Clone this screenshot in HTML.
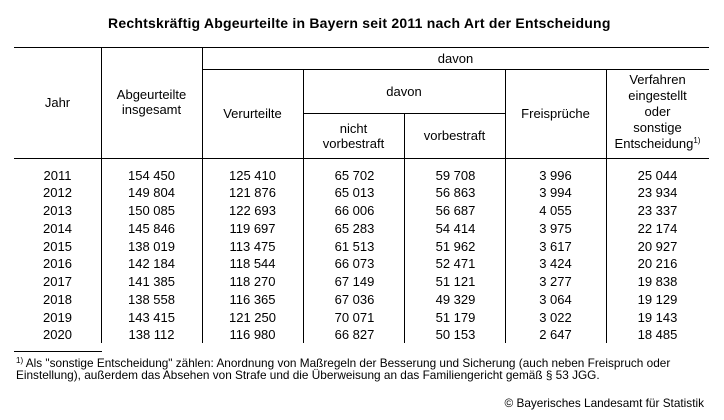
<!DOCTYPE html>
<html>
<head>
<meta charset="utf-8">
<style>
  html, body { margin:0; padding:0; background:#fff; }
  #root { position:relative; width:724px; height:420px; overflow:hidden; background:#fff;
          font-family:"Liberation Sans", Arial, sans-serif; color:#000; }
  .h { position:absolute; height:1px; background:#000; }
  .v { position:absolute; width:1px; background:#000; }
  .cell { position:absolute; display:flex; align-items:center; justify-content:center;
          text-align:center; font-size:13px; line-height:15px; }
  .cell > div { text-align:center; }
  .row { position:absolute; left:0; width:724px; height:17.75px; font-size:13px; line-height:17.75px; }
  .row span { position:absolute; top:0; text-align:center; white-space:nowrap; }
  .c1 { left:14px; width:87px; }
  .c2 { left:101px; width:101px; }
  .c3 { left:202px; width:101px; }
  .c4 { left:304px; width:101px; }
  .c5 { left:405px; width:101px; }
  .c6 { left:505px; width:101px; }
  .c7 { left:606px; width:103px; }
  .s { font-size:8px; line-height:0; position:relative; top:-5px; }
</style>
</head>
<body>
<div id="root">
  <div style="position:absolute; left:108px; top:15.5px; font-size:14px; line-height:14px; font-weight:bold; letter-spacing:0.22px; white-space:nowrap;">Rechtskräftig Abgeurteilte in Bayern seit 2011 nach Art der Entscheidung</div>

  <!-- horizontal lines -->
  <div class="h" style="left:14px; top:47px; width:695px;"></div>
  <div class="h" style="left:202px; top:69px; width:507px;"></div>
  <div class="h" style="left:303px; top:112.5px; width:203px;"></div>
  <div class="h" style="left:14px; top:157.5px; width:695px;"></div>

  <!-- vertical lines -->
  <div class="v" style="left:101px; top:47px; height:296px;"></div>
  <div class="v" style="left:202px; top:47px; height:296px;"></div>
  <div class="v" style="left:303px; top:69px; height:274px;"></div>
  <div class="v" style="left:404px; top:112.5px; height:230.5px;"></div>
  <div class="v" style="left:505px; top:69px; height:274px;"></div>
  <div class="v" style="left:606px; top:69px; height:274px;"></div>

  <!-- header cells -->
  <div class="cell" style="left:14px; top:47px; width:87px; height:110px;"><div>Jahr</div></div>
  <div class="cell" style="left:101px; top:47px; width:101px; height:110px;"><div>Abgeurteilte<br>insgesamt</div></div>
  <div class="cell" style="left:202px; top:47px; width:507px; height:22px;"><div>davon</div></div>
  <div class="cell" style="left:202px; top:69px; width:101px; height:89px;"><div>Verurteilte</div></div>
  <div class="cell" style="left:303px; top:69px; width:202px; height:44px;"><div>davon</div></div>
  <div class="cell" style="left:303px; top:113px; width:101px; height:45px;"><div>nicht<br>vorbestraft</div></div>
  <div class="cell" style="left:404px; top:113px; width:101px; height:45px;"><div>vorbestraft</div></div>
  <div class="cell" style="left:505px; top:69px; width:101px; height:89px;"><div>Freisprüche</div></div>
  <div class="cell" style="left:606px; top:69px; width:103px; height:86px; line-height:16px;"><div>Verfahren<br>eingestellt<br>oder<br>sonstige<br><span style="white-space:nowrap;">Entscheidung<span class="s">1)</span></span></div></div>

  <!-- data rows -->
  <div class="row" style="top:166.6px;"><span class="c1">2011</span><span class="c2">154 450</span><span class="c3">125 410</span><span class="c4">65 702</span><span class="c5">59 708</span><span class="c6">3 996</span><span class="c7">25 044</span></div>
  <div class="row" style="top:184.35px;"><span class="c1">2012</span><span class="c2">149 804</span><span class="c3">121 876</span><span class="c4">65 013</span><span class="c5">56 863</span><span class="c6">3 994</span><span class="c7">23 934</span></div>
  <div class="row" style="top:202.1px;"><span class="c1">2013</span><span class="c2">150 085</span><span class="c3">122 693</span><span class="c4">66 006</span><span class="c5">56 687</span><span class="c6">4 055</span><span class="c7">23 337</span></div>
  <div class="row" style="top:219.85px;"><span class="c1">2014</span><span class="c2">145 846</span><span class="c3">119 697</span><span class="c4">65 283</span><span class="c5">54 414</span><span class="c6">3 975</span><span class="c7">22 174</span></div>
  <div class="row" style="top:237.6px;"><span class="c1">2015</span><span class="c2">138 019</span><span class="c3">113 475</span><span class="c4">61 513</span><span class="c5">51 962</span><span class="c6">3 617</span><span class="c7">20 927</span></div>
  <div class="row" style="top:255.35px;"><span class="c1">2016</span><span class="c2">142 184</span><span class="c3">118 544</span><span class="c4">66 073</span><span class="c5">52 471</span><span class="c6">3 424</span><span class="c7">20 216</span></div>
  <div class="row" style="top:273.1px;"><span class="c1">2017</span><span class="c2">141 385</span><span class="c3">118 270</span><span class="c4">67 149</span><span class="c5">51 121</span><span class="c6">3 277</span><span class="c7">19 838</span></div>
  <div class="row" style="top:290.85px;"><span class="c1">2018</span><span class="c2">138 558</span><span class="c3">116 365</span><span class="c4">67 036</span><span class="c5">49 329</span><span class="c6">3 064</span><span class="c7">19 129</span></div>
  <div class="row" style="top:308.6px;"><span class="c1">2019</span><span class="c2">143 415</span><span class="c3">121 250</span><span class="c4">70 071</span><span class="c5">51 179</span><span class="c6">3 022</span><span class="c7">19 143</span></div>
  <div class="row" style="top:326.35px;"><span class="c1">2020</span><span class="c2">138 112</span><span class="c3">116 980</span><span class="c4">66 827</span><span class="c5">50 153</span><span class="c6">2 647</span><span class="c7">18 485</span></div>

  <!-- footnote -->
  <div class="h" style="left:14px; top:350.5px; width:88px;"></div>
  <div style="position:absolute; left:16px; top:357.7px; font-size:11.8px; line-height:10.5px; white-space:nowrap;"><span style="font-size:8px; position:relative; top:-4px;">1)</span> Als "sonstige Entscheidung" zählen: Anordnung von Maßregeln der Besserung und Sicherung (auch neben Freispruch oder<br>Einstellung), außerdem das Absehen von Strafe und die Überweisung an das Familiengericht gemäß § 53 JGG.</div>

  <div style="position:absolute; right:20px; top:397px; font-size:11.8px; line-height:12px; white-space:nowrap;">© Bayerisches Landesamt für Statistik</div>
</div>
</body>
</html>
